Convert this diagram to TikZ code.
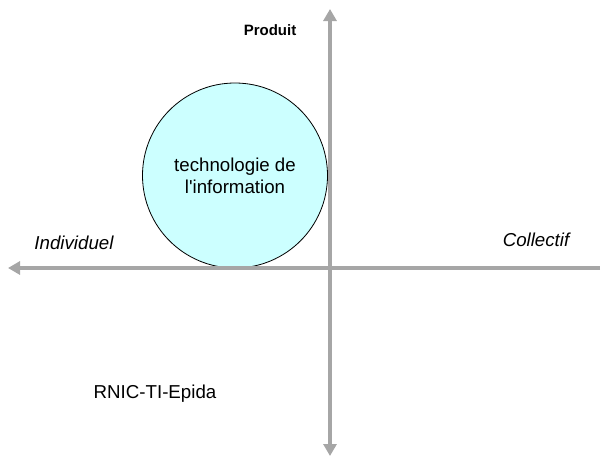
\documentclass[tikz,border=0pt]{standalone}
\usepackage{fontspec}
\setmainfont{Liberation Sans}
\usetikzlibrary{arrows.meta}
\definecolor{axisgray}{HTML}{A6A6A6}
\definecolor{circfill}{HTML}{CCFFFF}
\tikzset{
  axis/.style={draw=axisgray, line width=3.6pt, -{Triangle[width=13pt,length=12pt]}},
  lbl/.style={inner sep=0pt, font=\fontsize{18.7}{22}\selectfont},
  ilbl/.style={lbl, font=\fontsize{18.7}{22}\selectfont\itshape}
}
\begin{document}
\begin{tikzpicture}[x=1pt,y=-1pt]
\useasboundingbox (0,0) rectangle (601,463);
\coordinate (top) at (330,9);
\coordinate (bot) at (330,456);
\coordinate (left) at (8,268);
\coordinate (right) at (600,268);
\coordinate (vmid) at (330,268);
\node[circle, draw=black, line width=0.8pt, fill=circfill, minimum size=185pt, inner sep=0pt] (c) at (235,175.5) {};
\draw[axis] (vmid) -- (top);
\draw[axis] (vmid) -- (bot);
\draw[axis] (right) -- (left);
\node[lbl, align=center] (ti) at (c.center) {technologie de\\l\textquotesingle information};
\node[lbl, font=\fontsize{15}{17}\selectfont\bfseries] (prod) at (270,30) {Produit};
\node[ilbl] (ind) at (74,243) {Individuel};
\node[ilbl] (col) at (536,240) {Collectif};
\node[lbl] (rnic) at (155,394) {RNIC-TI-Epida};
\end{tikzpicture}
\end{document}
